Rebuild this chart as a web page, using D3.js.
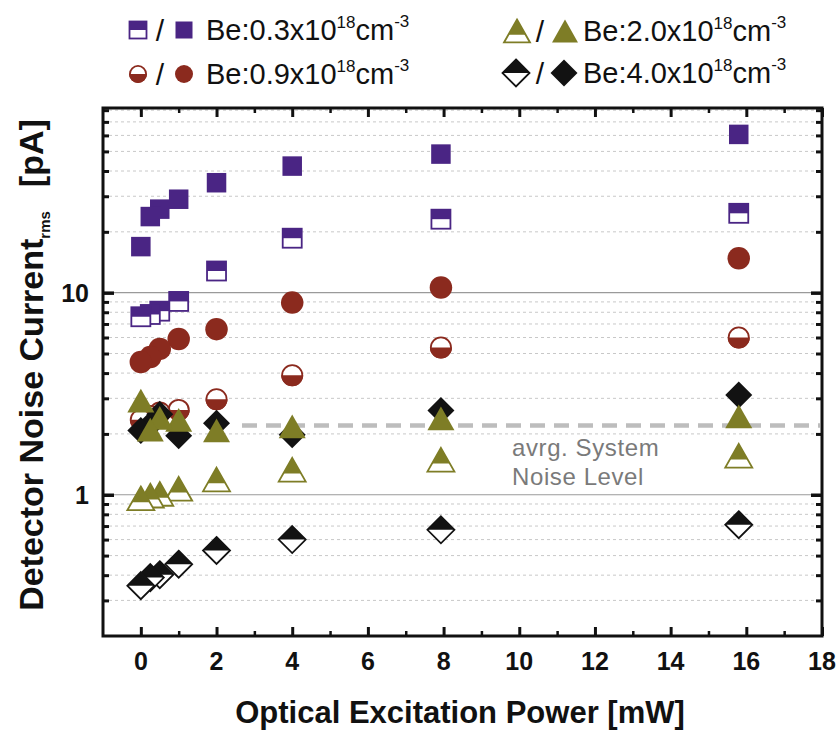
<!DOCTYPE html>
<html>
<head>
<meta charset="utf-8">
<script src="https://cdn.jsdelivr.net/npm/d3@7"></script>
<style>
  html, body { margin: 0; padding: 0; background: #fff; }
  svg { display: block; font-family: "Liberation Sans", Arial, Helvetica, sans-serif; }
</style>
</head>
<body>
<svg id="chart" width="838" height="733"></svg>
<script>
// ---------------- data ----------------
const powers = [0, 0.25, 0.5, 1, 2, 4, 7.93, 15.8];           // mW
const be03Dark  = [7.6, 7.8, 8.1, 9.05, 12.8, 18.6, 23.1, 24.7];
const be03Light = [16.9, 23.8, 25.9, 29.0, 35.0, 42.3, 48.5, 60.7];
const be09Dark  = [2.35, 2.45, 2.55, 2.63, 2.97, 3.90, 5.35, 6.0];
const be09Light = [4.54, 4.8, 5.27, 5.9, 6.6, 8.93, 10.6, 14.8];
const be20Dark  = [0.96, 0.99, 1.01, 1.07, 1.19, 1.33, 1.49, 1.56];
const be20Light = [2.92, 2.10, 2.40, 2.35, 2.08, 2.18, 2.39, 2.44];
const be40Dark  = [0.355, 0.389, 0.402, 0.453, 0.53, 0.60, 0.671, 0.711];
const be40Light = [2.08, 2.22, 2.5, 1.96, 2.26, 1.98, 2.61, 3.12];
const systemNoise = 2.2;
const xTicks = [0, 2, 4, 6, 8, 10, 12, 14, 16, 18];
const xMinorTicks = [1, 3, 5, 7, 9, 11, 13, 15, 17];
const yTicks = [1, 10];
const yMinor = [0.3,0.4,0.5,0.6,0.7,0.8,0.9,2,3,4,5,6,7,8,9,20,30,40,50,60,70,80];
const legendLabels = ["Be:0.3x10", "Be:0.9x10", "Be:2.0x10", "Be:4.0x10"];

const colors = { sq: "#4a2584", ci: "#8b2a1e", tr: "#7e7d26", di: "#121212" };

// ---------------- layout ----------------
const svg = d3.select("#chart");
const L = 103, R = 822, T = 108, B = 636;
const x = d3.scaleLinear().domain([-1, 18]).range([L, R]);
const y = d3.scaleLog().domain([0.2, 82]).range([B, T]);

// grid
const grid = svg.append("g");
grid.selectAll("line.minor").data(yMinor).enter().append("line")
  .attr("x1", L).attr("x2", R).attr("y1", d => y(d)).attr("y2", d => y(d))
  .attr("stroke", "#c8c8c8").attr("stroke-width", 1).attr("stroke-dasharray", "3,3");
grid.selectAll("line.major").data(yTicks).enter().append("line")
  .attr("x1", L).attr("x2", R).attr("y1", d => y(d)).attr("y2", d => y(d))
  .attr("stroke", "#9a9a9a").attr("stroke-width", 1.2);

// system noise dashed line
svg.append("line")
  .attr("x1", 242).attr("x2", R - 2).attr("y1", y(systemNoise)).attr("y2", y(systemNoise))
  .attr("stroke", "#bdbdbd").attr("stroke-width", 4.5).attr("stroke-dasharray", "15,9");
svg.append("text").attr("x", 512).attr("y", 456).attr("font-size", 24).attr("letter-spacing", 0.6)
  .attr("fill", "#7a7a7a").text("avrg. System");
svg.append("text").attr("x", 512).attr("y", 485).attr("font-size", 24).attr("letter-spacing", 0.6)
  .attr("fill", "#7a7a7a").text("Noise Level");

// axes (ticks inside, mirrored)
function axis(gen, tr, len, vals) {
  const g = svg.append("g").attr("transform", tr)
    .call(gen.tickValues(vals).tickSize(len).tickFormat(""));
  g.select(".domain").remove();
  g.selectAll(".tick line").attr("stroke", "#111");
  return g;
}
axis(d3.axisBottom(x), `translate(0,${B})`, -9, xTicks).selectAll(".tick line").attr("stroke-width", 3);
axis(d3.axisBottom(x), `translate(0,${B})`, -5, xMinorTicks).selectAll(".tick line").attr("stroke-width", 2.5);
axis(d3.axisTop(x), `translate(0,${T})`, -9, xTicks).selectAll(".tick line").attr("stroke-width", 3);
axis(d3.axisTop(x), `translate(0,${T})`, -5, xMinorTicks).selectAll(".tick line").attr("stroke-width", 2.5);
axis(d3.axisLeft(y), `translate(${L},0)`, -11, yTicks).selectAll(".tick line").attr("stroke-width", 3.5);
axis(d3.axisLeft(y), `translate(${L},0)`, -6, yMinor).selectAll(".tick line").attr("stroke-width", 3);
axis(d3.axisRight(y), `translate(${R},0)`, -11, yTicks).selectAll(".tick line").attr("stroke-width", 3.5);
axis(d3.axisRight(y), `translate(${R},0)`, -6, yMinor).selectAll(".tick line").attr("stroke-width", 3);

// frame
svg.append("rect").attr("x", L).attr("y", T).attr("width", R - L).attr("height", B - T)
  .attr("fill", "none").attr("stroke", "#111").attr("stroke-width", 3);

// tick labels
svg.append("g").selectAll("text").data(xTicks).enter().append("text")
  .attr("x", d => x(d)).attr("y", 670).attr("text-anchor", "middle")
  .attr("font-size", 25).attr("font-weight", "bold").attr("fill", "#111").text(d => d);
svg.append("g").selectAll("text").data(yTicks).enter().append("text")
  .attr("x", 89).attr("y", d => y(d) + 9).attr("text-anchor", "end")
  .attr("font-size", 25).attr("font-weight", "bold").attr("fill", "#111").text(d => d);

// axis titles
svg.append("text").attr("x", 460).attr("y", 723).attr("text-anchor", "middle")
  .attr("font-size", 31).attr("font-weight", "bold").attr("fill", "#111")
  .text("Optical Excitation Power [mW]");
const yt = svg.append("text").attr("transform", "translate(43,365) rotate(-90)")
  .attr("text-anchor", "middle").attr("font-weight", "bold").attr("fill", "#111").attr("font-size", 34);
yt.append("tspan").text("Detector Noise Current");
yt.append("tspan").attr("font-size", 15).attr("dy", 7).text("rms");
yt.append("tspan").attr("dy", -7).attr("dx", 24).text("[pA]");

// ---------------- markers ----------------
function marker(g, shape, cx, cy, size, color, half) {
  const sw = 1.8;
  if (shape === "sq") {
    const s = size;
    g.append("rect").attr("x", cx - s/2).attr("y", cy - s/2).attr("width", s).attr("height", s)
      .attr("fill", half ? "#fff" : color).attr("stroke", color).attr("stroke-width", half ? sw : 0);
    if (half) g.append("rect").attr("x", cx - s/2).attr("y", cy - s/2).attr("width", s).attr("height", s/2).attr("fill", color);
  } else if (shape === "ci") {
    const r = size / 2;
    g.append("circle").attr("cx", cx).attr("cy", cy).attr("r", half ? r - sw/2 : r)
      .attr("fill", half ? "#fff" : color).attr("stroke", color).attr("stroke-width", half ? sw : 0);
    if (half) g.append("path").attr("d", `M${cx - r},${cy} A${r},${r} 0 0,0 ${cx + r},${cy} Z`).attr("fill", color);
  } else if (shape === "tr") {
    const w = size, h = size * 0.88;
    const top = cy - h/2, bot = cy + h/2;
    g.append("path").attr("d", `M${cx},${top} L${cx + w/2},${bot} L${cx - w/2},${bot} Z`)
      .attr("fill", half ? "#fff" : color).attr("stroke", color).attr("stroke-width", half ? sw : 0)
      .attr("stroke-linejoin", "miter");
    if (half) {
      const f = 0.66, yc = top + f * h, wc = w * f;
      g.append("path").attr("d", `M${cx},${top} L${cx + wc/2},${yc} L${cx - wc/2},${yc} Z`).attr("fill", color);
    }
  } else if (shape === "di") {
    const d = size / 2;
    g.append("path").attr("d", `M${cx},${cy - d} L${cx + d},${cy} L${cx},${cy + d} L${cx - d},${cy} Z`)
      .attr("fill", half ? "#fff" : color).attr("stroke", color).attr("stroke-width", half ? sw : 0);
    if (half) g.append("path").attr("d", `M${cx - d},${cy} L${cx},${cy - d} L${cx + d},${cy} Z`).attr("fill", color);
  }
}

const plotSeries = [
  { vals: be03Dark,  shape: "sq", half: true,  size: 19 },
  { vals: be03Light, shape: "sq", half: false, size: 19.5 },
  { vals: be09Dark,  shape: "ci", half: true,  size: 22 },
  { vals: be09Light, shape: "ci", half: false, size: 22.5 },
  { vals: be40Dark,  shape: "di", half: true,  size: 27 },
  { vals: be40Light, shape: "di", half: false, size: 27 },
  { vals: be20Dark,  shape: "tr", half: true,  size: 27 },
  { vals: be20Light, shape: "tr", half: false, size: 27 },
];
const markersG = svg.append("g");
plotSeries.forEach(s => {
  const g = markersG.append("g");
  const idx = d3.range(powers.length).reverse();
  idx.forEach(i => marker(g, s.shape, x(powers[i]), y(s.vals[i]), s.size, colors[s.shape], s.half));
});

// ---------------- legend ----------------
const legendItems = [
  { shape: "sq", label: legendLabels[0], ox: 138, fx: 184, slash: 160, tx: 206, cy: 30, size: 17 },
  { shape: "ci", label: legendLabels[1], ox: 138, fx: 184, slash: 160, tx: 206, cy: 74, size: 18 },
  { shape: "tr", label: legendLabels[2], ox: 517, fx: 565, slash: 540, tx: 583, cy: 31, size: 26 },
  { shape: "di", label: legendLabels[3], ox: 516, fx: 564, slash: 540, tx: 583, cy: 73, size: 27 },
];
const lg = svg.append("g");
legendItems.forEach(it => {
  marker(lg, it.shape, it.ox, it.cy, it.size, colors[it.shape], true);
  marker(lg, it.shape, it.fx, it.cy, it.size, colors[it.shape], false);
  lg.append("text").attr("x", it.slash).attr("y", it.cy + 11).attr("text-anchor", "middle")
    .attr("font-size", 30).attr("fill", "#111").text("/");
  const t = lg.append("text").attr("x", it.tx).attr("y", it.cy + 10).attr("font-size", 29).attr("fill", "#111");
  t.append("tspan").text(it.label);
  t.append("tspan").attr("font-size", 17).attr("dy", -12).text("18");
  t.append("tspan").attr("dy", 12).text("cm");
  t.append("tspan").attr("font-size", 17).attr("dy", -13).text("-3");
});
</script>
</body>
</html>
